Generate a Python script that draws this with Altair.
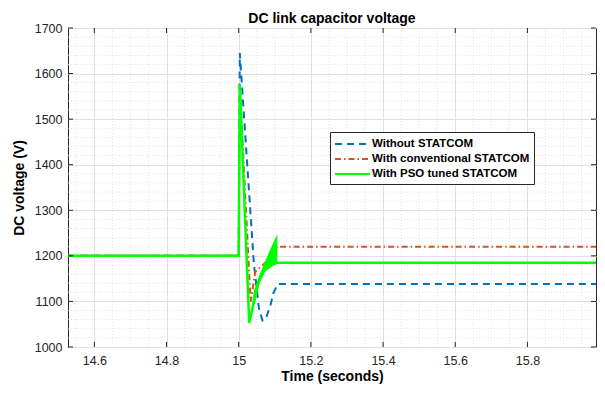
import altair as alt
import pandas as pd

# ---------------- data ----------------
series_names = ["Without STATCOM", "With conventional STATCOM", "With PSO tuned STATCOM"]
series_colors = ["#0072BD", "#D95319", "#00FF00"]
series_dashes = [[7, 5], [6, 3, 1.5, 3], [1, 0]]

t_without = [14.527, 15.0, 15.003, 15.042, 15.056, 15.066, 15.075, 15.088, 15.097, 15.108, 15.99]
v_without = [1200, 1200, 1645, 1183, 1085, 1058, 1062, 1092, 1120, 1138, 1138]

t_conv = [14.527, 15.0, 15.003, 15.033, 15.046, 15.074, 15.107, 15.99]
v_conv = [1200, 1200, 1570, 1099, 1165, 1185, 1220, 1220]

t_pso = [14.527, 15.0, 15.003, 15.029, 15.056, 15.074, 15.107, 15.99]
v_pso = [1200, 1200, 1577, 1053, 1145, 1178, 1185, 1185]

# oscillation band of the PSO-tuned response (envelopes)
t_band = [15.029, 15.038, 15.042, 15.056, 15.074, 15.092, 15.106, 15.107]
hi_band = [1053, 1100, 1123, 1155, 1190, 1222, 1246, 1246]
lo_band = [1053, 1078, 1090, 1137, 1166, 1176, 1183, 1183]

x_major = [14.6, 14.8, 15.0, 15.2, 15.4, 15.6, 15.8]
x_minor = [14.55, 14.65, 14.7, 14.75, 14.85, 14.9, 14.95, 15.05, 15.1, 15.15,
           15.25, 15.3, 15.35, 15.45, 15.5, 15.55, 15.65, 15.7, 15.75, 15.85,
           15.9, 15.95]
y_major = [1000, 1100, 1200, 1300, 1400, 1500, 1600, 1700]
y_minor = [1020, 1040, 1060, 1080, 1120, 1140, 1160, 1180, 1220, 1240, 1260,
           1280, 1320, 1340, 1360, 1380, 1420, 1440, 1460, 1480, 1520, 1540,
           1560, 1580, 1620, 1640, 1660, 1680]

x_domain = [14.527, 15.99]
y_domain = [1000, 1700]

# ---------------- build tables ----------------
rows = []
for name, ts, vs in [(series_names[0], t_without, v_without),
                     (series_names[1], t_conv, v_conv),
                     (series_names[2], t_pso, v_pso)]:
    for i, (t, v) in enumerate(zip(ts, vs)):
        rows.append({"s": name, "t": t, "v": v, "i": i})
lines = pd.DataFrame(rows)
band = pd.DataFrame({"t": t_band, "v": hi_band, "lo": lo_band})
xmaj = pd.DataFrame({"t": x_major})
xmin = pd.DataFrame({"t": x_minor})
ymaj = pd.DataFrame({"v": y_major})
ymin = pd.DataFrame({"v": y_minor})

W, H = 528, 319
FONT = "Liberation Sans"
INK = "#262626"

xs = alt.Scale(domain=x_domain, nice=False, zero=False)
ys = alt.Scale(domain=y_domain, nice=False, zero=False)
xaxis = alt.Axis(values=x_major, format="~g", grid=True, labelPadding=7,
                 titlePadding=3, title="Time (seconds)")
yaxis = alt.Axis(values=y_major, format="d", grid=True, labelPadding=6,
                 titlePadding=8, title="DC voltage (V)")


def X():
    return alt.X("t:Q", scale=xs, axis=xaxis, title="Time (seconds)")


def Y(field="v"):
    return alt.Y(f"{field}:Q", scale=ys, axis=yaxis, title="DC voltage (V)")


legend = alt.Legend(orient="none", legendX=262, legendY=104, title=None,
                    labelFont=FONT, labelFontWeight="bold", labelFontSize=11.5,
                    labelColor="black", symbolType="M-1,0H4", symbolSize=196,
                    symbolStrokeWidth=2, strokeColor=INK, fillColor="white",
                    padding=4, rowPadding=1, labelOffset=22, labelLimit=400)
color = alt.Color("s:N", scale=alt.Scale(domain=series_names, range=series_colors),
                  legend=legend)
dash = alt.StrokeDash("s:N", scale=alt.Scale(domain=series_names, range=series_dashes),
                      legend=legend)

grid_x_minor = alt.Chart(xmin).mark_rule(color="#dcdcdc", strokeWidth=0.8,
                                         strokeDash=[1, 2]).encode(
    x=X(), y=alt.value(0), y2=alt.value(H))
grid_y_minor = alt.Chart(ymin).mark_rule(color="#dcdcdc", strokeWidth=0.8,
                                         strokeDash=[1, 2]).encode(
    y=Y(), x=alt.value(0), x2=alt.value(W))

layers = [grid_x_minor, grid_y_minor]
for k, name in enumerate(series_names):
    lay = alt.Chart(lines).transform_filter(alt.datum.s == name).mark_line(
        strokeWidth=2.5 if k == 2 else 2, clip=True).encode(
        x=X(), y=Y(), color=color, strokeDash=dash, order="i:Q")
    layers.append(lay)
    if k == 1:
        layers.append(alt.Chart(band).mark_area(color="#00FF00", opacity=1,
                                                line=False).encode(
            x=X(), y=Y(), y2="lo:Q"))

ticks = [
    alt.Chart(xmaj).mark_rule(color=INK, strokeWidth=1).encode(
        x=X(), y=alt.value(H), y2=alt.value(H - 5)),
    alt.Chart(xmaj).mark_rule(color=INK, strokeWidth=1).encode(
        x=X(), y=alt.value(0), y2=alt.value(5)),
    alt.Chart(ymaj).mark_rule(color=INK, strokeWidth=1).encode(
        y=Y(), x=alt.value(0), x2=alt.value(5)),
    alt.Chart(ymaj).mark_rule(color=INK, strokeWidth=1).encode(
        y=Y(), x=alt.value(W), x2=alt.value(W - 5)),
]
layers += ticks

chart = alt.layer(*layers).properties(
    width=W, height=H,
    title=alt.TitleParams("DC link capacitor voltage", frame="group", offset=-4),
    autosize="none",
    background="white",
    padding={"left": 60, "top": 20, "right": 1, "bottom": 39},
).configure_view(
    stroke=INK, strokeWidth=1
).configure_axis(
    labelFont=FONT, labelFontSize=12.5, labelColor=INK,
    titleFont=FONT, titleFontSize=14, titleFontWeight="bold", titleColor="black",
    domain=False, ticks=False, gridColor="#e0e0e0", gridWidth=1,
).configure_title(
    font=FONT, fontSize=14, fontWeight="bold", color="black",
    anchor="middle",
)

chart.save("out.html", embed_options={"renderer": "svg", "actions": False})
